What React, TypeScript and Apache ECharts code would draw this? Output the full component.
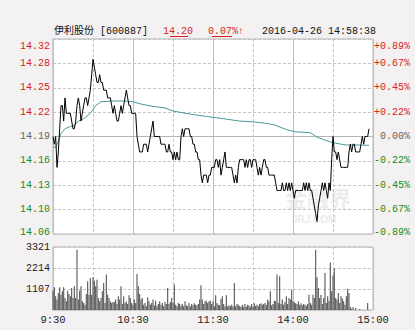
import React, { useEffect, useRef } from "react";
import * as echarts from "echarts";

// ---- data ----
const prices: number[] = [
  14.19, 14.18, 14.19, 14.15, 14.17, 14.20, 14.23, 14.23, 14.21, 14.24,
  14.22, 14.22, 14.22, 14.22, 14.21, 14.20, 14.20, 14.21, 14.23, 14.24,
  14.23, 14.21, 14.22, 14.23, 14.24, 14.24, 14.23, 14.24, 14.25, 14.27,
  14.29, 14.28, 14.27, 14.26, 14.26, 14.27, 14.26, 14.26, 14.25, 14.25,
  14.25, 14.24, 14.24, 14.24, 14.23, 14.22, 14.23, 14.22, 14.21, 14.21,
  14.22, 14.23, 14.22, 14.23, 14.24, 14.25, 14.24, 14.23, 14.23, 14.22,
  14.22, 14.22, 14.22, 14.19, 14.18, 14.17, 14.17, 14.17, 14.18, 14.18,
  14.18, 14.17, 14.18, 14.19, 14.20, 14.21, 14.19, 14.19, 14.19, 14.19,
  14.19, 14.18, 14.18, 14.18, 14.18, 14.17, 14.17, 14.18, 14.17, 14.17,
  14.16, 14.17, 14.16, 14.17, 14.16, 14.16, 14.19, 14.20, 14.19, 14.20,
  14.20, 14.20, 14.20, 14.19, 14.19, 14.18, 14.18, 14.17, 14.17, 14.16,
  14.16, 14.14, 14.13, 14.14, 14.14, 14.14, 14.13, 14.14, 14.14, 14.15,
  14.15, 14.15, 14.16, 14.16, 14.15, 14.16, 14.14, 14.15, 14.16, 14.17,
  14.15, 14.15, 14.15, 14.15, 14.15, 14.14, 14.13, 14.14, 14.13, 14.15,
  14.16, 14.16, 14.16, 14.16, 14.15, 14.16, 14.15, 14.16, 14.16, 14.15,
  14.16, 14.16, 14.16, 14.15, 14.14, 14.15, 14.14, 14.15, 14.16, 14.16,
  14.15, 14.15, 14.14, 14.14, 14.14, 14.14, 14.14, 14.13, 14.12, 14.12,
  14.12, 14.12, 14.13, 14.12, 14.12, 14.13, 14.12, 14.13, 14.12, 14.13,
  14.12, 14.11, 14.12, 14.12, 14.12, 14.12, 14.12, 14.12, 14.13, 14.12,
  14.13, 14.12, 14.13, 14.12, 14.12, 14.11, 14.10, 14.09, 14.08, 14.10,
  14.11, 14.12, 14.13, 14.12, 14.13, 14.12, 14.11, 14.13, 14.12, 14.16,
  14.19, 14.17, 14.17, 14.16, 14.17, 14.16, 14.15, 14.15, 14.15, 14.15,
  14.15, 14.15, 14.17, 14.18, 14.17, 14.18, 14.18, 14.17, 14.17, 14.17,
  14.17, 14.18, 14.19, 14.18, 14.19, 14.19, 14.19, 14.20,
];

const avgMinutes: number[] = [
  0, 2, 4, 6, 9, 13, 16, 19, 23, 28, 32, 36, 45, 53, 60, 66, 75, 84, 90, 103,
  115, 128, 140, 150, 160, 166, 175, 182, 193, 198, 203, 208, 213, 220, 228, 237,
];
const avgPrices: number[] = [
  14.176, 14.176, 14.184, 14.194, 14.2, 14.203, 14.204, 14.21, 14.213, 14.22,
  14.23, 14.235, 14.236, 14.236, 14.235, 14.232, 14.229, 14.227, 14.223, 14.219,
  14.216, 14.213, 14.21, 14.209, 14.207, 14.205, 14.199, 14.196, 14.195, 14.189,
  14.186, 14.183, 14.181, 14.179, 14.179, 14.1786,
];

const volumes: number[] = [
  1020, 1200, 720, 550, 900, 1200, 810, 985, 1200, 630,
  460, 1020, 845, 720, 1160, 630, 1250, 630, 3180, 550,
  1020, 1250, 460, 370, 280, 845, 1510, 810, 1690, 810,
  1720, 1550, 1250, 1600, 630, 460, 630, 985, 1425, 370,
  1865, 810, 630, 460, 370, 420, 420, 550, 320, 720,
  550, 1250, 320, 720, 370, 460, 320, 775, 630, 370,
  280, 550, 370, 1900, 1250, 845, 550, 630, 280, 370,
  195, 670, 460, 280, 370, 550, 245, 490, 195, 320,
  460, 280, 370, 195, 420, 320, 1160, 320, 420, 630,
  370, 1340, 280, 195, 370, 320, 230, 320, 195, 460,
  245, 195, 370, 195, 320, 245, 350, 280, 245, 320,
  550, 1300, 550, 320, 460, 490, 370, 460, 490, 320,
  460, 195, 775, 370, 280, 245, 580, 720, 320, 195,
  775, 195, 245, 195, 280, 195, 1425, 195, 320, 280,
  195, 175, 280, 175, 320, 175, 280, 245, 175, 320,
  195, 350, 230, 280, 195, 320, 350, 280, 320, 370,
  280, 550, 460, 985, 245, 320, 490, 460, 1865, 370,
  1775, 320, 550, 280, 420, 720, 320, 630, 550, 1075,
  460, 405, 350, 320, 460, 280, 350, 245, 320, 280,
  230, 320, 810, 370, 280, 810, 630, 3180, 1720, 1160,
  630, 810, 320, 630, 1950, 370, 720, 490, 2510, 985,
  1830, 2180, 630, 550, 900, 370, 720, 600, 460, 280,
  720, 1125, 900, 175, 70, 140, 0, 105, 0, 0,
  50, 0, 0, 0, 0, 0, 370, 0, 0, 0, 0,
];

const priceLabels: string[] = ["14.06", "14.10", "14.13", "14.16", "14.19", "14.22", "14.25", "14.28", "14.32"];
const pctLabels: string[] = ["-0.89%", "-0.67%", "-0.45%", "-0.22%", "0.00%", "+0.22%", "+0.45%", "+0.67%", "+0.89%"];
const timeLabels: string[] = ["9:30", "", "10:30", "", "11:30", "", "14:00", "", "15:00"];
const volTicks: number[] = [0, 1107, 2214, 3321];

const prevClose = 14.19;
const priceMin = 14.0637;
const priceMax = 14.3163;

const stockName = "伊利股份 [600887]";
const lastPrice = "14.20";
const changePct = "0.07%↑";
const stamp = "2016-04-26 14:58:38";

const RED = "#d81e1e";
const GREEN = "#228b22";
const GRAY = "#666666";
const FONT = "'Liberation Mono', 'Noto Sans CJK SC', monospace";
const GRIDC = "#c4c4c4";

function levelStyle(i: number): string {
  const c = i > 4 ? "r" : i < 4 ? "g" : "n";
  const pos = i === 8 ? "t" : i === 0 ? "b" : "";
  return c + pos;
}

const rich = {
  r: { color: RED },
  g: { color: GREEN },
  n: { color: GRAY },
  rt: { color: RED, padding: [14, 0, 0, 0] },
  gb: { color: GREEN, padding: [0, 0, 4, 0] },
};

export default function App() {
  const ref = useRef<HTMLDivElement>(null);
  useEffect(() => {
    if (!ref.current) return;
    const chart = echarts.init(ref.current, undefined, { renderer: "svg" });
    const labelBase = { fontFamily: FONT, fontSize: 10 };
    chart.setOption({
      animation: false,
      backgroundColor: "#f3f1f1",
      textStyle: { fontFamily: FONT },
      grid: [
        { left: 53, top: 39, width: 320, height: 195, show: true, backgroundColor: "#ffffff", borderColor: "#b5b5b5", borderWidth: 1 },
        { left: 53, top: 247, width: 320, height: 63, show: true, backgroundColor: "#ffffff", borderColor: "#b5b5b5", borderWidth: 1 },
      ],
      xAxis: [
        { gridIndex: 0, type: "value", min: 0, max: 240, interval: 30, axisLine: { show: false }, axisTick: { show: false }, axisLabel: { show: false }, splitLine: { show: true, lineStyle: { color: GRIDC, type: [3, 2], width: 1 } } },
        { gridIndex: 0, type: "value", min: 0, max: 240, interval: 60, axisLine: { show: false }, axisTick: { show: false }, axisLabel: { show: false }, splitLine: { show: true, lineStyle: { color: "#bdbdbd", type: "solid", width: 1 } } },
        {
          gridIndex: 1, type: "value", min: 0, max: 240, interval: 30, axisLine: { show: false }, axisTick: { show: false },
          axisLabel: { ...labelBase, fontSize: 10.5, color: "#222", margin: 5, showMinLabel: true, showMaxLabel: true, formatter: (v: number) => timeLabels[Math.round(v / 30)] || "" },
          splitLine: { show: true, lineStyle: { color: GRIDC, type: [3, 2], width: 1 } },
        },
        { gridIndex: 1, type: "value", min: 0, max: 240, interval: 60, axisLine: { show: false }, axisTick: { show: false }, axisLabel: { show: false }, splitLine: { show: true, lineStyle: { color: "#bdbdbd", type: "solid", width: 1 } } },
      ],
      yAxis: [
        {
          gridIndex: 0, type: "value", min: 0, max: 8, interval: 1, position: "left", axisLine: { show: false }, axisTick: { show: false },
          axisLabel: { ...labelBase, margin: 3, formatter: (v: number) => { const i = Math.round(v); return `{${levelStyle(i)}|${priceLabels[i]}}`; }, rich },
          splitLine: { show: true, lineStyle: { color: GRIDC, type: [3, 2], width: 1 } },
        },
        {
          gridIndex: 0, type: "value", min: 0, max: 8, interval: 1, position: "right", axisLine: { show: false }, axisTick: { show: false },
          axisLabel: { ...labelBase, margin: 37, align: "right", formatter: (v: number) => { const i = Math.round(v); return `{${levelStyle(i)}|${pctLabels[i]}}`; }, rich },
          splitLine: { show: false },
        },
        { gridIndex: 0, type: "value", min: priceMin, max: priceMax, show: false, splitLine: { show: false } },
        {
          gridIndex: 1, type: "value", min: volTicks[0], max: volTicks[3], interval: volTicks[1], axisLine: { show: false }, axisTick: { show: false },
          axisLabel: { ...labelBase, color: "#222", margin: 3, formatter: (v: number) => (v === 0 ? "" : String(v)) },
          splitLine: { show: true, lineStyle: { color: GRIDC, type: [3, 2], width: 1 } },
        },
      ],
      series: [
        {
          type: "line", xAxisIndex: 0, yAxisIndex: 2, data: avgPrices.map((p, i) => [avgMinutes[i], p]),
          showSymbol: false, symbol: "none", lineStyle: { color: "#4a9a9a", width: 1 }, silent: true, z: 3,
        },
        {
          type: "line", xAxisIndex: 0, yAxisIndex: 2, data: prices.map((p, i) => [i, p]),
          showSymbol: false, symbol: "none", lineStyle: { color: "#000000", width: 1 }, silent: true, z: 4,
          markLine: { silent: true, symbol: "none", label: { show: false }, lineStyle: { color: "#b5b5b5", type: "solid", width: 1 }, data: [{ yAxis: prevClose }], z: 1 },
        },
        {
          type: "bar", xAxisIndex: 2, yAxisIndex: 3, data: volumes.map((v, i) => [i, v]),
          barWidth: 1.1, itemStyle: { color: "#555555" }, silent: true,
        },
      ],
      graphic: [
        { type: "text", x: 285, y: 186, silent: true, z: 0, style: { text: "金融界", fill: "rgba(190,190,190,0.28)", font: "bold 22px 'Noto Sans CJK SC'", verticalAlign: "top" } },
        { type: "text", x: 292, y: 214, silent: true, z: 0, style: { text: "JRJ.COM", fill: "rgba(190,190,190,0.35)", font: "bold 10px 'Liberation Sans'", verticalAlign: "top" } },
        { type: "text", x: 54, y: 31, style: { text: stockName, fill: "#111", font: `10px ${FONT}`, verticalAlign: "middle" } },
        { type: "text", x: 163, y: 31, style: { text: lastPrice, fill: RED, font: `10px ${FONT}`, verticalAlign: "middle" } },
        { type: "line", shape: { x1: 170, y1: 36.5, x2: 188, y2: 36.5 }, style: { stroke: RED, lineWidth: 1 } },
        { type: "text", x: 208, y: 31, style: { text: changePct, fill: RED, font: `10px ${FONT}`, verticalAlign: "middle" } },
        { type: "line", shape: { x1: 212, y1: 36.5, x2: 232, y2: 36.5 }, style: { stroke: RED, lineWidth: 1 } },
        { type: "text", x: 262, y: 31, style: { text: stamp, fill: "#111", font: `10px ${FONT}`, verticalAlign: "middle" } },
      ],
    });
    return () => chart.dispose();
  }, []);
  return <div ref={ref} style={{ position: "fixed", left: 0, top: 0, width: 415, height: 330 }} />;
}
